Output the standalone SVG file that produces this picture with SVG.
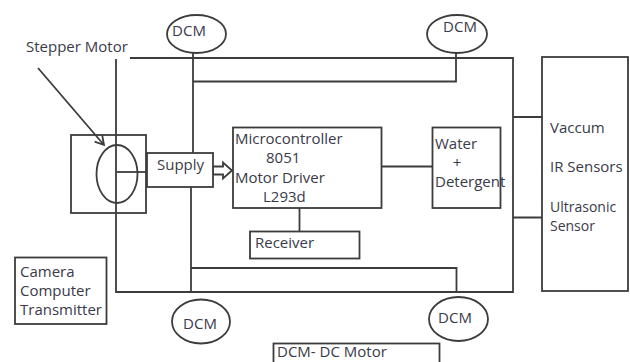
<svg xmlns="http://www.w3.org/2000/svg" width="630" height="362" viewBox="0 0 630 362">
<style>
  .ln { stroke:#3c3c3c; stroke-width:1.8; fill:none; }
  .bx { stroke:#3c3c3c; stroke-width:1.8; fill:#ffffff; }
  .t { font-family:"Open Sans","Liberation Sans",sans-serif; font-size:15px; fill:#3a3a48; }
  .s { font-size:14px; }
  .m { text-anchor:middle; }
</style>
<rect width="630" height="362" fill="#ffffff"/>
<g id="stepper-motor">
  <rect class="ln" x="71" y="135" width="75" height="78"/>
  <ellipse class="ln" cx="117" cy="174" rx="20.5" ry="29"/>
  <text class="t" x="26" y="52">Stepper Motor</text>
</g>
<g id="connectors">
  <path class="ln" d="M130 58 H513 V292 H116 V59"/>
  <path class="ln" d="M193 53 V153"/>
  <path class="ln" d="M193 81.5 H456 V53"/>
  <path class="ln" d="M191 187 V292"/>
  <path class="ln" d="M191 268 H456.5 V292"/>
  <path class="ln" d="M117 172 H147"/>
  <path class="ln" d="M381.5 166.5 H432.5"/>
  <path class="ln" d="M299.5 208 V231.5"/>
  <path class="ln" d="M513 117 H542 M513 217.5 H542"/>
  <path class="ln" d="M38 68 L104 145 M102.2 135.2 L104 145 L94.6 141.7" stroke-width="1.3"/>
  <polygon class="ln" stroke-width="1.6" points="213,166.5 223,166.5 223,162.5 232,170.5 223,178.5 223,174.5 213,174.5"/>
</g>
<g id="supply">
  <rect class="bx" x="147" y="153" width="66" height="34"/>
  <text class="t" x="157" y="170">Supply</text>
</g>
<g id="microcontroller">
  <rect class="bx" x="233" y="127.5" width="148.5" height="80.5"/>
  <text class="t" x="235" y="144">Microcontroller</text>
  <text class="t" x="266" y="163">8051</text>
  <text class="t" x="235" y="182.5">Motor Driver</text>
  <text class="t" x="263" y="201.5">L293d</text>
</g>
<g id="water">
  <rect class="bx" x="432.5" y="127.5" width="68" height="80.5"/>
  <text class="t" x="435" y="149">Water</text>
  <text class="t m" x="457" y="168">+</text>
  <text class="t" x="435" y="187">Detergent</text>
</g>
<g id="receiver">
  <rect class="bx" x="250" y="231.5" width="109.5" height="27"/>
  <text class="t" x="255" y="248">Receiver</text>
</g>
<g id="sensors">
  <rect class="bx" x="542" y="57" width="86" height="234"/>
  <text class="t" x="550" y="133">Vaccum</text>
  <text class="t" x="550" y="172">IR Sensors</text>
  <text class="t s" x="550" y="211.5">Ultrasonic</text>
  <text class="t s" x="550" y="230.5">Sensor</text>
</g>
<g id="camera">
  <rect class="bx" x="15" y="257.5" width="91.5" height="66.5"/>
  <text class="t" x="20" y="277">Camera</text>
  <text class="t" x="20" y="296">Computer</text>
  <text class="t" x="20" y="315">Transmitter</text>
</g>
<g id="dcm-top-left">
  <ellipse class="bx" cx="196.5" cy="34" rx="29.5" ry="19"/>
  <text class="t m" x="189" y="36">DCM</text>
</g>
<g id="dcm-top-right">
  <ellipse class="bx" cx="457" cy="34" rx="30" ry="19"/>
  <text class="t m" x="460" y="32">DCM</text>
</g>
<g id="dcm-bottom-left">
  <ellipse class="bx" cx="201" cy="321.5" rx="29" ry="22"/>
  <text class="t m" x="200" y="329">DCM</text>
</g>
<g id="dcm-bottom-right">
  <ellipse class="bx" cx="458.5" cy="319" rx="29.5" ry="22"/>
  <text class="t m" x="455" y="323">DCM</text>
</g>
<g id="legend">
  <rect class="bx" x="273.5" y="343.5" width="166" height="30"/>
  <text class="t" x="277" y="357">DCM- DC Motor</text>
</g>
</svg>
